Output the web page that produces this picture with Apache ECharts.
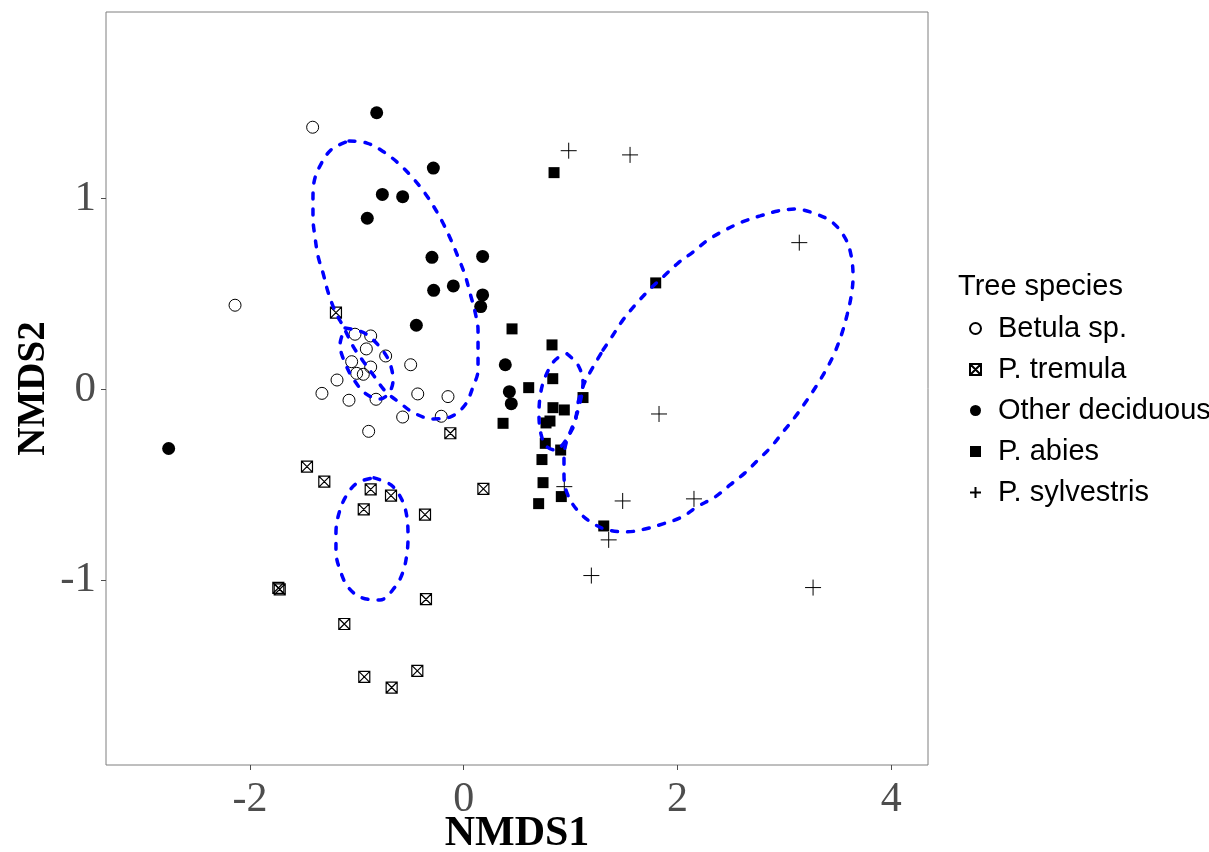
<!DOCTYPE html>
<html>
<head>
<meta charset="utf-8">
<script src="https://cdn.jsdelivr.net/npm/echarts@6/dist/echarts.min.js"></script>
<style>
  html, body { margin: 0; padding: 0; background: #ffffff; }
  #chart { width: 1209px; height: 852px; }
</style>
</head>
<body>
<div id="chart"></div>
<script>
// NMDS site scores, one array per tree species: [NMDS1, NMDS2]
const betula = [
  [-1.413, 1.374], [-2.139, 0.441], [-1.017, 0.289], [-0.870, 0.280], [-0.911, 0.212],
  [-0.730, 0.175], [-1.048, 0.145], [-0.870, 0.117], [-0.496, 0.129], [-1.001, 0.084],
  [-0.939, 0.079], [-1.185, 0.049], [-1.326, -0.021], [-1.073, -0.057], [-0.820, -0.052],
  [-0.430, -0.024], [-0.147, -0.038], [-0.571, -0.145], [-0.210, -0.141], [-0.889, -0.220]
];
const tremula = [
  [-1.195, 0.402], [-0.125, -0.230], [-1.466, -0.405], [-1.304, -0.484], [-0.870, -0.524],
  [-0.680, -0.557], [-0.935, -0.629], [-0.362, -0.657], [0.184, -0.522], [-1.734, -1.041],
  [-1.721, -1.048], [-0.353, -1.100], [-1.117, -1.230], [-0.930, -1.507], [-0.674, -1.563],
  [-0.434, -1.476]
];
const otherDeciduous = [
  [-0.814, 1.450], [-0.284, 1.160], [-0.761, 1.022], [-0.571, 1.010], [-0.902, 0.897],
  [-0.297, 0.692], [0.177, 0.697], [-0.281, 0.519], [-0.097, 0.542], [0.177, 0.495],
  [0.159, 0.434], [-0.443, 0.336], [0.389, 0.129], [0.427, -0.012], [0.445, -0.075],
  [-2.760, -0.310]
];
const abies = [
  [0.845, 1.136], [1.796, 0.558], [0.452, 0.317], [0.826, 0.233], [0.833, 0.056],
  [0.608, 0.009], [1.116, -0.043], [0.835, -0.096], [0.941, -0.108], [0.368, -0.178],
  [0.770, -0.176], [0.807, -0.166], [0.763, -0.283], [0.907, -0.318], [0.732, -0.368],
  [0.742, -0.489], [0.913, -0.562], [0.701, -0.599], [1.310, -0.716]
];
const sylvestris = [
  [0.982, 1.251], [1.556, 1.229], [3.139, 0.769], [1.827, -0.129], [0.941, -0.510],
  [1.487, -0.585], [2.154, -0.574], [1.356, -0.789], [1.194, -0.976], [3.268, -1.039]
];

// Ellipse outlines (NMDS1, NMDS2), traced around each group
const ellipseOtherDeciduous = [
  [-1.073, 1.302], [-0.905, 1.291], [-0.746, 1.244], [-0.615, 1.187], [-0.484, 1.113],
  [-0.371, 1.035], [-0.278, 0.956], [-0.194, 0.872], [-0.119, 0.783], [-0.053, 0.694],
  [0.012, 0.600], [0.059, 0.505], [0.106, 0.406], [0.134, 0.311], [0.134, 0.206],
  [0.134, 0.102], [0.087, 0.013], [0.012, -0.082], [-0.128, -0.145], [-0.287, -0.155],
  [-0.465, -0.124], [-0.596, -0.071], [-0.736, -0.008], [-0.839, 0.070], [-0.942, 0.149],
  [-1.036, 0.227], [-1.120, 0.322], [-1.204, 0.411], [-1.269, 0.510], [-1.316, 0.610],
  [-1.363, 0.699], [-1.391, 0.799], [-1.410, 0.898], [-1.410, 0.993], [-1.400, 1.087],
  [-1.335, 1.181], [-1.232, 1.260]
];
const ellipseBetula = [
  [-1.110, 0.322], [-1.008, 0.311], [-0.914, 0.290], [-0.792, 0.227], [-0.699, 0.149],
  [-0.661, 0.049], [-0.699, -0.019], [-0.783, -0.050], [-0.914, -0.024], [-1.026, 0.049],
  [-1.110, 0.138], [-1.157, 0.233]
];
const ellipseTremula = [
  [-0.839, -0.464], [-0.680, -0.501], [-0.577, -0.580], [-0.530, -0.674], [-0.521, -0.774],
  [-0.530, -0.857], [-0.568, -0.957], [-0.643, -1.036], [-0.783, -1.104], [-0.951, -1.093],
  [-1.082, -1.036], [-1.157, -0.947], [-1.195, -0.852], [-1.195, -0.753], [-1.176, -0.669],
  [-1.110, -0.569], [-0.998, -0.491]
];
const ellipseAbies = [
  [0.966, 0.186], [1.069, 0.128], [1.116, 0.034], [1.088, -0.071], [1.032, -0.171],
  [0.957, -0.265], [0.854, -0.318], [0.770, -0.297], [0.723, -0.234], [0.704, -0.134],
  [0.714, -0.040], [0.751, 0.049], [0.826, 0.133], [0.892, 0.170]
];
const ellipseSylvestris = [
  [1.303, 0.206], [1.397, 0.285], [1.490, 0.364], [1.621, 0.453], [1.743, 0.526],
  [1.864, 0.589], [2.005, 0.662], [2.145, 0.720], [2.285, 0.783], [2.444, 0.835],
  [2.603, 0.877], [2.772, 0.909], [2.940, 0.935], [3.099, 0.945], [3.268, 0.925],
  [3.445, 0.877], [3.567, 0.794], [3.623, 0.704], [3.642, 0.589], [3.623, 0.484],
  [3.586, 0.390], [3.539, 0.296], [3.473, 0.196], [3.399, 0.112], [3.305, 0.023],
  [3.212, -0.056], [3.099, -0.145], [2.987, -0.223], [2.875, -0.302], [2.753, -0.370],
  [2.631, -0.438], [2.491, -0.501], [2.351, -0.564], [2.182, -0.616], [2.042, -0.669],
  [1.864, -0.705], [1.696, -0.732], [1.528, -0.747], [1.350, -0.737], [1.200, -0.700],
  [1.060, -0.632], [0.966, -0.543], [0.938, -0.449], [0.938, -0.360], [0.966, -0.265],
  [1.041, -0.176], [1.069, -0.071], [1.125, 0.028], [1.210, 0.117]
];

const xTicks = [-2, 0, 2, 4];
const yTicks = [-1, 0, 1];
const speciesNames = ['Betula sp.', 'P. tremula', 'Other deciduous', 'P. abies', 'P. sylvestris'];

// Marker shapes
const boxCross = 'path://M0,0 L10,0 L10,10 L0,10 Z M0,0 L10,10 M10,0 L0,10';
const plusSign = 'path://M5,0 L5,10 M0,5 L10,5';

const axisFont = 'Liberation Serif, Times New Roman, serif';
const legendFont = 'Liberation Sans, Arial, sans-serif';

function scatter(name, data, symbol, size, style) {
  return {
    name: name,
    type: 'scatter',
    data: data,
    symbol: symbol,
    symbolSize: size,
    itemStyle: Object.assign({ opacity: 1 }, style),
    z: 2
  };
}

function ellipse(data) {
  return {
    type: 'line',
    data: data.concat([data[0]]),
    smooth: 0.35,
    showSymbol: false,
    silent: true,
    z: 5,
    lineStyle: { color: '#0000FF', width: 3.5, type: [6, 10], cap: 'round' }
  };
}

const chart = echarts.init(document.getElementById('chart'), null, { renderer: 'canvas' });

chart.setOption({
  backgroundColor: '#ffffff',
  animation: false,
  grid: {
    left: 106, right: 281, top: 12, bottom: 87,
    outerBoundsMode: 'none',
    containLabel: false,
    show: true, borderColor: '#7f7f7f', borderWidth: 1, backgroundColor: 'transparent'
  },
  title: {
    text: 'Tree species',
    left: 953, top: 267,
    textStyle: { fontFamily: legendFont, fontSize: 29, fontWeight: 'normal', color: '#000000' }
  },
  legend: {
    data: speciesNames,
    orient: 'vertical',
    left: 964, top: 309,
    itemWidth: 11, itemHeight: 11,
    itemGap: 12,
    textStyle: {
      fontFamily: legendFont, fontSize: 29, color: '#000000',
      lineHeight: 27, padding: [0, 0, 0, 12]
    }
  },
  xAxis: {
    type: 'value',
    min: -3.346, max: 4.343,
    name: 'NMDS1', nameLocation: 'middle', nameGap: 48, nameMoveOverlap: false,
    nameTextStyle: { fontFamily: axisFont, fontSize: 42, fontWeight: 'bold', color: '#000000' },
    axisLine: { show: false, onZero: false },
    splitLine: { show: false },
    axisTick: { show: true, length: 5, customValues: xTicks, lineStyle: { color: '#4d4d4d' } },
    axisLabel: {
      customValues: xTicks, margin: 14,
      fontFamily: axisFont, fontSize: 42, color: '#4d4d4d'
    }
  },
  yAxis: {
    type: 'value',
    min: -1.969, max: 1.978,
    name: 'NMDS2', nameLocation: 'middle', nameGap: 53, nameRotate: 90, nameMoveOverlap: false,
    nameTextStyle: { fontFamily: axisFont, fontSize: 39, fontWeight: 'bold', color: '#000000' },
    axisLine: { show: false, onZero: false },
    splitLine: { show: false },
    axisTick: { show: true, length: 5, customValues: yTicks, lineStyle: { color: '#4d4d4d' } },
    axisLabel: {
      customValues: yTicks, margin: 10,
      fontFamily: axisFont, fontSize: 43, color: '#4d4d4d'
    }
  },
  series: [
    scatter('Betula sp.', betula, 'circle', 12,
      { color: 'rgba(0,0,0,0)', borderColor: '#000000', borderWidth: 1 }),
    scatter('P. tremula', tremula, boxCross, 11,
      { color: 'rgba(0,0,0,0)', borderColor: '#000000', borderWidth: 1.2 }),
    scatter('Other deciduous', otherDeciduous, 'circle', 13,
      { color: '#000000' }),
    scatter('P. abies', abies, 'rect', 11,
      { color: '#000000' }),
    scatter('P. sylvestris', sylvestris, plusSign, 16,
      { color: 'rgba(0,0,0,0)', borderColor: '#000000', borderWidth: 1 }),
    ellipse(ellipseOtherDeciduous),
    ellipse(ellipseBetula),
    ellipse(ellipseTremula),
    ellipse(ellipseAbies),
    ellipse(ellipseSylvestris)
  ]
});
</script>
</body>
</html>
